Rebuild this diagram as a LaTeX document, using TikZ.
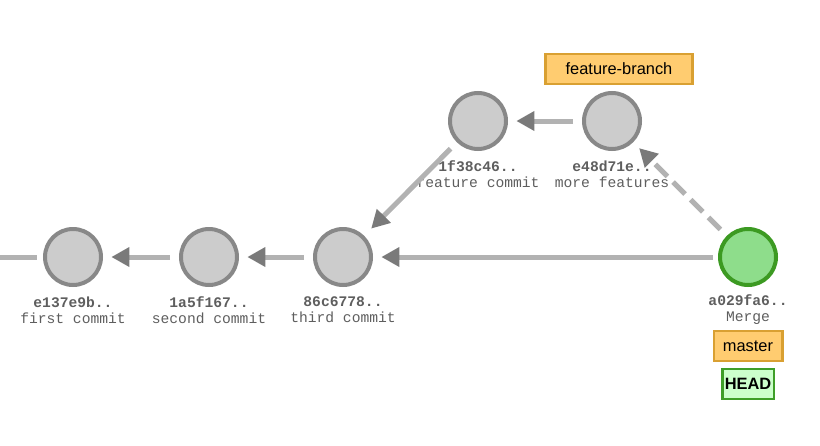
\documentclass[tikz,border=0pt]{standalone}
\usepackage{fontspec}
\setmainfont{Liberation Sans}
\newfontfamily\gitmono{Liberation Mono}
\usepackage{tikz}
\usetikzlibrary{arrows.meta}
\definecolor{nodefill}{HTML}{CCCCCC}
\definecolor{nodeline}{HTML}{888888}
\definecolor{edgegray}{HTML}{B2B2B2}
\definecolor{tipgray}{HTML}{7A7A7A}
\definecolor{txtgray}{HTML}{5E5E5E}
\definecolor{mergefill}{HTML}{8EDD8B}
\definecolor{mergeline}{HTML}{3C9A22}
\definecolor{tagfill}{HTML}{FFCC70}
\definecolor{tagline}{HTML}{D9A032}
\definecolor{headfill}{HTML}{CCFFCC}
\definecolor{headline}{HTML}{3E9E28}
\tikzset{>={Triangle[length=0.54cm,width=0.56cm,color=tipgray]}}

\begin{document}
\begin{tikzpicture}[x=0.03cm,y=-0.03cm,
    commit/.style={circle,draw=nodeline,fill=nodefill,line width=0.12cm,minimum size=1.68cm,inner sep=0pt},
    merge/.style={commit,draw=mergeline,fill=mergefill},
    info/.style={align=center,text=txtgray,font=\gitmono\fontsize{12.5}{13.8}\selectfont},
    tag/.style={draw=tagline,fill=tagfill,line width=0.08cm,inner sep=0pt,font=\fontsize{14}{16}\selectfont},
    edge/.style={draw=edgegray,line width=0.15cm,shorten <=0.27cm,shorten >=0.25cm}]
  \useasboundingbox (0,0) rectangle (820,445);
  % commits
  \node[commit] (c1) at (73,257) {};
  \node[commit] (c2) at (209,257) {};
  \node[commit] (c3) at (343,257) {};
  \node[commit] (f1) at (478,121) {};
  \node[commit] (f2) at (612,121) {};
  \node[merge] (m) at (748,257) {};
  \coordinate (tail) at (0,257);
  % hashes and messages
  \node[info] (c1t) at (73,310) {\textbf{e137e9b..}\\first commit};
  \node[info] (c2t) at (209,310) {\textbf{1a5f167..}\\second commit};
  \node[info] (c3t) at (343,310) {\textbf{86c6778..}\\third commit};
  \node[info] (f1t) at (478,174) {\textbf{1f38c46..}\\feature commit};
  \node[info] (f2t) at (612,174) {\textbf{e48d71e..}\\more features};
  \node[info] (mt) at (748,310) {\textbf{a029fa6..}\\Merge};
  % branches
  \node[tag,minimum width=4.4cm,minimum height=0.9cm] (fb) at (619,69) {feature-branch};
  \node[tag,minimum width=2.05cm,minimum height=0.9cm] (ms) at (748,346) {master};
  \node[tag,draw=headline,fill=headfill,minimum width=1.55cm,minimum height=0.9cm,
    font=\fontsize{14}{16}\selectfont\bfseries] (hd) at (748,384) {HEAD};
  % parents
  \draw[edge,shorten <=0cm,shorten >=0.18cm] (tail) -- (c1);
  \draw[edge,->] (c2) -- (c1);
  \draw[edge,->] (c3) -- (c2);
  \draw[edge,->] (f2) -- (f1);
  \draw[edge,->,shorten >=0.3cm] (f1) -- (c3);
  \draw[edge,->,shorten <=0.15cm] (m) -- (c3);
  \draw[edge,->,dash pattern=on 0.51cm off 0.24cm] (m) -- (f2);
\end{tikzpicture}
\end{document}
